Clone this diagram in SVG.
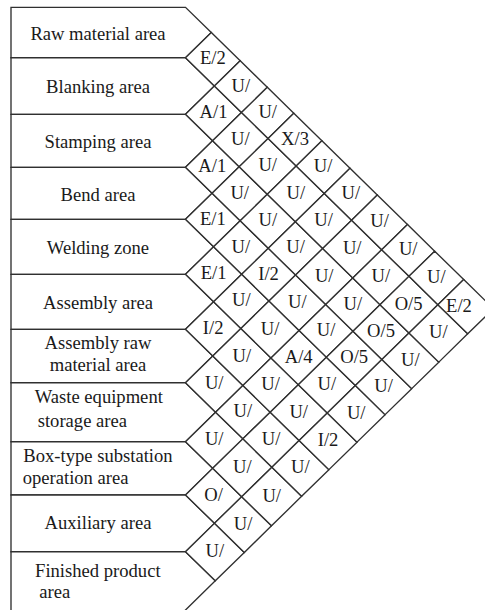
<svg xmlns="http://www.w3.org/2000/svg" width="485" height="610" viewBox="0 0 485 610">
<style>
.cell{fill:#fff;stroke:#303030;stroke-width:1.35;stroke-linejoin:miter}
.t{font-family:"Liberation Serif","Times New Roman",serif;font-size:18.6px;fill:#1a1a1a;text-anchor:middle}
.s{text-anchor:start}
</style>
<rect x="0" y="0" width="485" height="610" fill="#fff"/>
<g id="rows">
<g id="row-1"><polygon class="cell" points="11,7.3 185.5,7.3 211.3,32.5 185.5,57.7 11,57.7"/><text class="t" x="98" y="40">Raw material area</text></g>
<g id="row-2"><polygon class="cell" points="11,57.7 185.5,57.7 214.4,86.0 185.5,114.3 11,114.3"/><text class="t" x="98" y="93.3">Blanking area</text></g>
<g id="row-3"><polygon class="cell" points="11,114.3 185.5,114.3 212.6,140.8 185.5,167.3 11,167.3"/><text class="t" x="98" y="148.3">Stamping area</text></g>
<g id="row-4"><polygon class="cell" points="11,167.3 185.5,167.3 212.1,193.3 185.5,219.3 11,219.3"/><text class="t" x="98" y="200.6">Bend area</text></g>
<g id="row-5"><polygon class="cell" points="11,219.3 185.5,219.3 213.6,246.8 185.5,274.3 11,274.3"/><text class="t" x="98" y="254.1">Welding zone</text></g>
<g id="row-6"><polygon class="cell" points="11,274.3 185.5,274.3 213.6,301.8 185.5,329.3 11,329.3"/><text class="t" x="98" y="308.5">Assembly area</text></g>
<g id="row-7"><polygon class="cell" points="11,329.3 185.5,329.3 212.8,356.0 185.5,382.7 11,382.7"/><text class="t" x="98" y="349.3">Assembly raw</text><text class="t" x="98" y="371">material area</text></g>
<g id="row-8"><polygon class="cell" points="11,382.7 185.5,382.7 215.6,412.2 185.5,441.7 11,441.7"/><text class="t" x="98.8" y="403.3">Waste equipment</text><text class="t s" x="37.7" y="426.7">storage area</text></g>
<g id="row-9"><polygon class="cell" points="11,441.7 185.5,441.7 212.7,468.35 185.5,495 11,495"/><text class="t" x="98" y="461.7">Box-type substation</text><text class="t s" x="22.7" y="484.3">operation area</text></g>
<g id="row-10"><polygon class="cell" points="11,495 185.5,495 214.5,523.35 185.5,551.7 11,551.7"/><text class="t" x="98" y="529.3">Auxiliary area</text></g>
<g id="row-11"><path class="cell" d="M11,613 L11,551.7 L185.5,551.7 L215.3,580.85 L185.5,610 L182.5,613"/><text class="t" x="97.8" y="576.7">Finished product</text><text class="t s" x="39.3" y="598.3">area</text></g>
</g>
<g id="cells">
<g id="c-1-2"><polygon class="cell" points="185.5,57.7 211.3,32.5 240.2,60.8 214.4,86.0"/><text class="t" x="212.8" y="64.3">E/2</text></g>
<g id="c-2-3"><polygon class="cell" points="185.5,114.3 214.4,86.0 241.5,112.5 212.6,140.8"/><text class="t" x="213.5" y="118.4">A/1</text></g>
<g id="c-3-4"><polygon class="cell" points="185.5,167.3 212.6,140.8 239.2,166.8 212.1,193.3"/><text class="t" x="212.3" y="172.1">A/1</text></g>
<g id="c-4-5"><polygon class="cell" points="185.5,219.3 212.1,193.3 240.2,220.8 213.6,246.8"/><text class="t" x="212.8" y="225.1">E/1</text></g>
<g id="c-5-6"><polygon class="cell" points="185.5,274.3 213.6,246.8 241.7,274.3 213.6,301.8"/><text class="t" x="213.6" y="279.3">E/1</text></g>
<g id="c-6-7"><polygon class="cell" points="185.5,329.3 213.6,301.8 240.9,328.5 212.8,356.0"/><text class="t" x="213.2" y="333.9">I/2</text></g>
<g id="c-7-8"><polygon class="cell" points="185.5,382.7 212.8,356.0 242.9,385.5 215.6,412.2"/><text class="t" x="214.2" y="389.1">U/</text></g>
<g id="c-8-9"><polygon class="cell" points="185.5,441.7 215.6,412.2 242.9,438.85 212.7,468.35"/><text class="t" x="214.2" y="445.3">U/</text></g>
<g id="c-9-10"><polygon class="cell" points="185.5,495 212.7,468.35 241.7,496.7 214.5,523.35"/><text class="t" x="213.6" y="500.9">O/</text></g>
<g id="c-10-11"><polygon class="cell" points="185.5,551.7 214.5,523.35 244.3,552.5 215.3,580.85"/><text class="t" x="214.9" y="557.1">U/</text></g>

<g id="c-1-3"><polygon class="cell" points="214.4,86.0 240.2,60.8 267.3,87.3 241.5,112.5"/><text class="t" x="240.8" y="91.7">U/</text></g>
<g id="c-2-4"><polygon class="cell" points="212.6,140.8 241.5,112.5 268.1,138.5 239.2,166.8"/><text class="t" x="240.3" y="144.7">U/</text></g>
<g id="c-3-5"><polygon class="cell" points="212.1,193.3 239.2,166.8 267.3,194.3 240.2,220.8"/><text class="t" x="239.7" y="198.8">U/</text></g>
<g id="c-4-6"><polygon class="cell" points="213.6,246.8 240.2,220.8 268.3,248.3 241.7,274.3"/><text class="t" x="240.9" y="252.6">U/</text></g>
<g id="c-5-7"><polygon class="cell" points="213.6,301.8 241.7,274.3 269.0,301.0 240.9,328.5"/><text class="t" x="241.3" y="306.4">U/</text></g>
<g id="c-6-8"><polygon class="cell" points="212.8,356.0 240.9,328.5 271.0,358.0 242.9,385.5"/><text class="t" x="241.9" y="362.0">U/</text></g>
<g id="c-7-9"><polygon class="cell" points="215.6,412.2 242.9,385.5 270.2,412.15 242.9,438.85"/><text class="t" x="242.9" y="417.2">U/</text></g>
<g id="c-8-10"><polygon class="cell" points="212.7,468.35 242.9,438.85 271.9,467.2 241.7,496.7"/><text class="t" x="242.3" y="472.8">U/</text></g>
<g id="c-9-11"><polygon class="cell" points="214.5,523.35 241.7,496.7 271.5,525.85 244.3,552.5"/><text class="t" x="243.0" y="529.6">U/</text></g>

<g id="c-1-4"><polygon class="cell" points="241.5,112.5 267.3,87.3 293.8,113.3 268.1,138.5"/><text class="t" x="267.7" y="117.9">U/</text></g>
<g id="c-2-5"><polygon class="cell" points="239.2,166.8 268.1,138.5 296.2,166.0 267.3,194.3"/><text class="t" x="267.7" y="171.4">U/</text></g>
<g id="c-3-6"><polygon class="cell" points="240.2,220.8 267.3,194.3 295.4,221.8 268.3,248.3"/><text class="t" x="267.8" y="226.3">U/</text></g>
<g id="c-4-7"><polygon class="cell" points="241.7,274.3 268.3,248.3 295.6,275.0 269.0,301.0"/><text class="t" x="268.6" y="279.7">I/2</text></g>
<g id="c-5-8"><polygon class="cell" points="240.9,328.5 269.0,301.0 299.1,330.5 271.0,358.0"/><text class="t" x="270.0" y="334.5">U/</text></g>
<g id="c-6-9"><polygon class="cell" points="242.9,385.5 271.0,358.0 298.3,384.65 270.2,412.15"/><text class="t" x="270.6" y="390.1">U/</text></g>
<g id="c-7-10"><polygon class="cell" points="242.9,438.85 270.2,412.15 299.1,440.5 271.9,467.2"/><text class="t" x="271.0" y="444.7">U/</text></g>
<g id="c-8-11"><polygon class="cell" points="241.7,496.7 271.9,467.2 301.6,496.35 271.5,525.85"/><text class="t" x="271.7" y="501.5">U/</text></g>

<g id="c-1-5"><polygon class="cell" points="268.1,138.5 293.8,113.3 321.9,140.8 296.2,166.0"/><text class="t" x="295.0" y="144.7">X/3</text></g>
<g id="c-2-6"><polygon class="cell" points="267.3,194.3 296.2,166.0 324.3,193.5 295.4,221.8"/><text class="t" x="295.8" y="198.9">U/</text></g>
<g id="c-3-7"><polygon class="cell" points="268.3,248.3 295.4,221.8 322.7,248.5 295.6,275.0"/><text class="t" x="295.5" y="253.4">U/</text></g>
<g id="c-4-8"><polygon class="cell" points="269.0,301.0 295.6,275.0 325.7,304.5 299.1,330.5"/><text class="t" x="297.4" y="307.8">U/</text></g>
<g id="c-5-9"><polygon class="cell" points="271.0,358.0 299.1,330.5 326.4,357.15 298.3,384.65"/><text class="t" x="298.7" y="362.6">A/4</text></g>
<g id="c-6-10"><polygon class="cell" points="270.2,412.15 298.3,384.65 327.3,413.0 299.1,440.5"/><text class="t" x="298.7" y="417.6">U/</text></g>
<g id="c-7-11"><polygon class="cell" points="271.9,467.2 299.1,440.5 328.9,469.65 301.6,496.35"/><text class="t" x="300.4" y="473.4">U/</text></g>

<g id="c-1-6"><polygon class="cell" points="296.2,166.0 321.9,140.8 350.0,168.3 324.3,193.5"/><text class="t" x="323.1" y="172.2">U/</text></g>
<g id="c-2-7"><polygon class="cell" points="295.4,221.8 324.3,193.5 351.6,220.2 322.7,248.5"/><text class="t" x="323.5" y="226.0">U/</text></g>
<g id="c-3-8"><polygon class="cell" points="295.6,275.0 322.7,248.5 352.8,278.0 325.7,304.5"/><text class="t" x="324.2" y="281.5">U/</text></g>
<g id="c-4-9"><polygon class="cell" points="299.1,330.5 325.7,304.5 353.0,331.15 326.4,357.15"/><text class="t" x="326.1" y="335.8">U/</text></g>
<g id="c-5-10"><polygon class="cell" points="298.3,384.65 326.4,357.15 355.4,385.5 327.3,413.0"/><text class="t" x="326.8" y="390.1">U/</text></g>
<g id="c-6-11"><polygon class="cell" points="299.1,440.5 327.3,413.0 357.0,442.15 328.9,469.65"/><text class="t" x="328.1" y="446.3">I/2</text></g>

<g id="c-1-7"><polygon class="cell" points="324.3,193.5 350.0,168.3 377.3,195.0 351.6,220.2"/><text class="t" x="350.8" y="199.3">U/</text></g>
<g id="c-2-8"><polygon class="cell" points="322.7,248.5 351.6,220.2 381.7,249.7 352.8,278.0"/><text class="t" x="352.2" y="254.1">U/</text></g>
<g id="c-3-9"><polygon class="cell" points="325.7,304.5 352.8,278.0 380.0,304.65 353.0,331.15"/><text class="t" x="352.9" y="309.6">U/</text></g>
<g id="c-4-10"><polygon class="cell" points="326.4,357.15 353.0,331.15 381.9,359.5 355.4,385.5"/><text class="t" x="354.2" y="363.3">O/5</text></g>
<g id="c-5-11"><polygon class="cell" points="327.3,413.0 355.4,385.5 385.1,414.65 357.0,442.15"/><text class="t" x="356.2" y="418.8">U/</text></g>

<g id="c-1-8"><polygon class="cell" points="351.6,220.2 377.3,195.0 407.5,224.5 381.7,249.7"/><text class="t" x="379.5" y="227.4">U/</text></g>
<g id="c-2-9"><polygon class="cell" points="352.8,278.0 381.7,249.7 409.0,276.35 380.0,304.65"/><text class="t" x="380.9" y="282.2">U/</text></g>
<g id="c-3-10"><polygon class="cell" points="353.0,331.15 380.0,304.65 409.0,333.0 381.9,359.5"/><text class="t" x="381.0" y="337.1">O/5</text></g>
<g id="c-4-11"><polygon class="cell" points="355.4,385.5 381.9,359.5 411.7,388.65 385.1,414.65"/><text class="t" x="383.5" y="392.1">U/</text></g>

<g id="c-1-9"><polygon class="cell" points="381.7,249.7 407.5,224.5 434.7,251.2 409.0,276.35"/><text class="t" x="408.2" y="255.4">U/</text></g>
<g id="c-2-10"><polygon class="cell" points="380.0,304.65 409.0,276.35 437.9,304.7 409.0,333.0"/><text class="t" x="408.6" y="309.7">O/5</text></g>
<g id="c-3-11"><polygon class="cell" points="381.9,359.5 409.0,333.0 438.8,362.15 411.7,388.65"/><text class="t" x="410.4" y="365.8">U/</text></g>

<g id="c-1-10"><polygon class="cell" points="409.0,276.35 434.7,251.2 463.7,279.5 437.9,304.7"/><text class="t" x="436.3" y="282.9">U/</text></g>
<g id="c-2-11"><polygon class="cell" points="409.0,333.0 437.9,304.7 467.7,333.85 438.8,362.15"/><text class="t" x="438.4" y="338.4">U/</text></g>

<g id="c-1-11"><polygon class="cell" points="437.9,304.7 463.7,279.5 493.5,308.7 467.7,333.85"/><text class="t" x="459" y="311.5">E/2</text></g>
</g>
</svg>
